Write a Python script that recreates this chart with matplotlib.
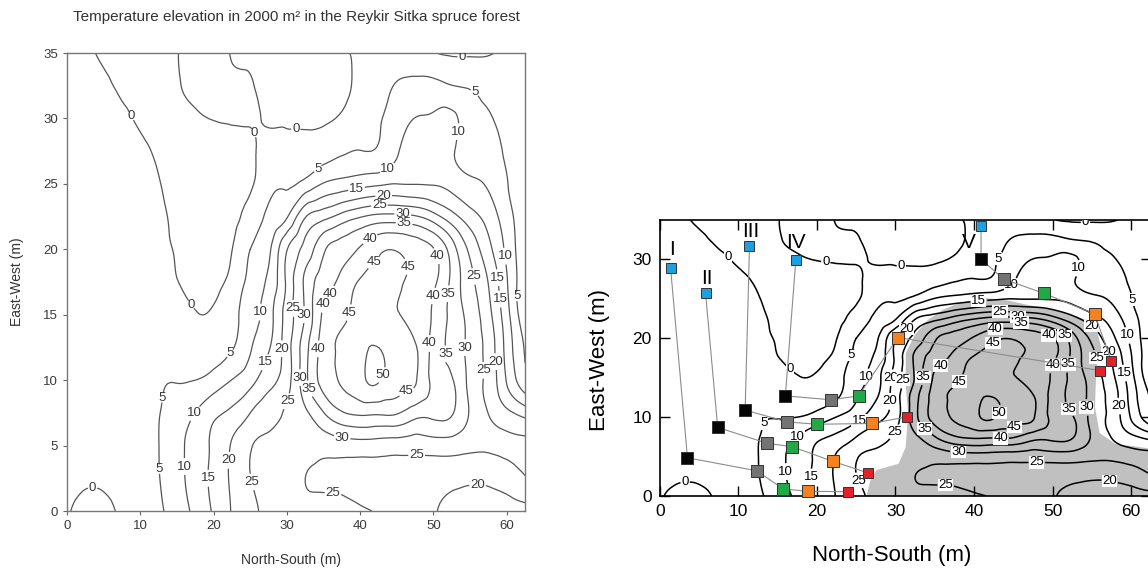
import numpy as np
import matplotlib.pyplot as plt
import matplotlib.tri as mtri

plt.rcParams['font.family'] = ['Liberation Sans', 'DejaVu Sans']

# grid of the temperature survey (m)
ns_pos = [0, 2.5, 5, 7.5, 10, 12.5, 15, 17.5, 20, 22.5, 25, 27.5, 30, 32.5,
          35, 37.5, 40, 42.5, 45, 47.5, 50, 52.5, 55, 57.5, 60, 62.5]
ew_pos = [0, 2.5, 5, 7.5, 10, 12.5, 15, 17.5, 20, 22.5, 25, 27.5, 30, 32.5, 35]

# temperature elevation (deg C), one list per north-south position, east-west 0 -> 35
temp_cols = [
    [0.3, 1.2, 1.8, 2.2, 2.5, 2.6, 2.6, 2.5, 2.3, 2.1, 1.9, 1.7, 1.4, 1.1, 0.8],
    [-0.9, 0.4, 1.5, 2.2, 2.6, 2.8, 2.8, 2.6, 2.4, 2.2, 2.0, 1.7, 1.4, 1.0, 0.4],
    [-0.7, 0.5, 1.6, 2.3, 2.8, 3.0, 3.0, 2.9, 2.7, 2.4, 2.1, 1.7, 1.2, 0.6, -0.45],
    [0.5, 1.2, 2.0, 2.6, 3.0, 3.2, 3.3, 3.1, 2.9, 2.5, 2.0, 1.5, 0.6, -0.6, -1.6],
    [2.0, 2.5, 3.0, 3.4, 3.6, 3.7, 3.6, 3.3, 3.0, 2.5, 1.8, 0.9, -0.6, -1.8, -2.4],
    [4.2, 4.8, 4.95, 4.8, 4.6, 4.4, 4.2, 3.9, 3.4, 1.8, 0.4, -1.0, -2.2, -2.8, -3.0],
    [7.35, 8.3, 8.5, 7.3, 4.8, 4.0, 2.5, 0.3, -1.2, -2.0, -2.6, -3.0, -2.5, -0.6, -0.2],
    [11.2, 12.2, 12.1, 10.1, 5.0, 2.8, 0.2, -1.2, -2.2, -2.8, -3.2, -3.3, -0.9, 1.2, 1.0],
    [15.6, 16.3, 16.0, 13.9, 6.9, 3.0, 0.4, -1.0, -2.2, -3.0, -3.4, -3.3, 0.2, 1.4, 1.2],
    [20.3, 20.9, 20.5, 16.0, 10.1, 4.6, 3.0, 1.5, -0.1, -1.5, -2.5, -2.0, 0.4, 0.6, -0.2],
    [23.7, 24.9, 24.7, 20.0, 13.3, 9.5, 8.0, 6.5, 5.0, 2.0, -0.8, -0.8, 0.4, 0.5, -1.0],
    [26.2, 26.5, 26.0, 23.1, 18.1, 14.5, 12.8, 11.0, 8.8, 5.7, 3.5, 1.6, -0.4, -1.8, -2.5],
    [26.5, 27.0, 27.3, 25.5, 23.1, 22.8, 22.1, 21.0, 19.8, 9.5, 4.35, 1.6, -0.6, -2.3, -3.0],
    [26.8, 25.0, 27.2, 29.0, 33.4, 33.1, 30.5, 31.0, 26.7, 19.6, 6.6, 1.8, -1.0, -2.8, -3.5],
    [26.3, 24.3, 26.8, 34.8, 42.0, 42.2, 40.9, 37.6, 34.2, 23.4, 10.3, 2.8, -0.7, -2.5, -3.0],
    [26.0, 24.2, 27.5, 39.5, 45.5, 46.0, 43.8, 41.4, 37.6, 26.8, 11.9, 4.3, 0.6, -1.5, -0.8],
    [25.4, 23.6, 27.8, 41.0, 48.5, 49.0, 47.5, 45.5, 40.5, 29.6, 13.2, 5.1, 3.0, 1.5, 0.8],
    [24.7, 23.3, 27.6, 40.8, 50.4, 50.0, 46.5, 46.5, 44.0, 31.4, 14.2, 5.5, 4.6, 3.5, 2.0],
    [23.0, 22.9, 27.3, 40.5, 47.0, 47.5, 45.2, 46.0, 44.7, 31.5, 15.0, 9.4, 7.4, 5.3, 2.8],
    [21.8, 22.3, 27.0, 37.2, 45.5, 45.5, 43.0, 43.5, 43.0, 30.5, 14.85, 12.5, 10.1, 6.1, 2.5],
    [20.2, 21.6, 27.5, 36.5, 38.5, 38.3, 39.4, 41.0, 40.3, 27.0, 14.7, 12.7, 10.7, 6.2, 0.3],
    [19.4, 21.2, 27.5, 35.5, 35.4, 33.8, 33.5, 33.8, 32.5, 21.9, 13.3, 10.5, 11.0, 5.1, -0.5],
    [18.6, 20.8, 26.3, 29.5, 28.5, 28.5, 28.2, 26.5, 23.8, 17.1, 10.9, 8.5, 7.5, 4.5, -0.6],
    [18.6, 21.0, 25.8, 24.9, 23.5, 23.0, 21.5, 19.8, 16.5, 12.9, 9.5, 7.5, 5.6, 3.0, -0.3],
    [18.3, 22.2, 26.0, 21.2, 14.6, 13.2, 11.8, 10.4, 8.8, 7.1, 5.3, 4.0, 2.8, 1.8, 0.6],
    [18.3, 24.6, 26.3, 18.0, 6.5, 4.5, 1.0, 0.8, 1.2, 1.5, 1.6, 1.5, 1.3, 1.0, 0.8],
]

levels = [0, 5, 10, 15, 20, 25, 30, 35, 40, 45, 50]

# shaded area in the right panel
shade_ns = [26.3, 26.8, 27.6, 30.4, 31.3, 31.6, 31.3, 31.3, 32.5, 34.1, 36.0, 38.2,
            41.5, 44.3, 47.0, 50.0, 53.0, 55.4, 56.3, 55.6, 55.4, 56.0, 58.0, 60.5,
            62.5, 62.5]
shade_ew = [0.0, 2.0, 3.3, 4.1, 6.2, 10.5, 14.0, 18.1, 20.5, 22.3, 23.6, 24.5,
            25.1, 24.8, 24.2, 23.6, 22.8, 21.9, 18.5, 16.4, 11.3, 8.0, 6.6, 6.3,
            6.0, 0.0]

# sampling transects: blue, black, grey, green, orange, red stations
transects = ['I', 'II', 'III', 'IV', 'V']
tr_ns = [[1.35, 3.5, 12.3, 15.7, 18.8, 24.0],
         [5.8, 7.35, 13.6, 16.85, 22.0, 26.45],
         [11.4, 10.85, 16.2, 19.95, 27.0, 31.5],
         [17.3, 15.97, 21.8, 25.3, 30.3, 56.1],
         [40.9, 40.9, 43.8, 48.9, 55.35, 57.5]]
tr_ew = [[28.9, 4.85, 3.2, 0.9, 0.6, 0.55],
         [25.8, 8.7, 6.7, 6.25, 4.4, 2.95],
         [31.7, 10.9, 9.4, 9.1, 9.2, 10.05],
         [29.9, 12.7, 12.2, 12.7, 20.1, 15.9],
         [34.2, 30.0, 27.5, 25.7, 23.1, 17.1]]
tr_label_ns = [1.5, 5.95, 11.5, 17.3, 39.4]
tr_label_ew = [31.2, 27.6, 33.5, 32.2, 32.2]

station_colors = ['#1e9fe0', '#050505', '#737373', '#23a847', '#f58220', '#e3212b']
station_sizes = [7.5, 8.5, 8, 8, 8, 7]

# where the contour values are written
left_lab_pos = [(8.1, 30.0), (25.1, 28.8), (31.1, 28.7), (16.3, 15.5), (3.5, 2.0), (53.9, 34.9),
                (34.3, 26.1), (55.5, 31.9), (22.6, 11.9), (13.6, 8.6), (12.5, 3.2), (61.6, 16.4),
                (43.6, 26.3), (54.4, 28.9), (60, 19.5), (26.8, 15.2), (17.3, 7.5), (16, 3.4),
                (39.5, 24.6), (59.2, 16.2), (27.3, 11.3), (19, 2.5),
                (43.2, 24.2), (58.3, 17.8), (58.2, 11.4), (28.7, 12.4), (21.4, 3.9), (56, 1.6),
                (42.6, 23.4), (56.3, 18.0), (56.7, 10.75), (31.2, 15.5), (30.4, 8.3), (25.1, 2.2),
                (47.7, 4.25), (36.3, 1.6),
                (45.8, 22.66), (53.8, 12.5), (32.6, 15), (31.4, 10.2), (37.5, 5.5),
                (46, 22), (52.1, 16.6), (52.1, 12), (34.3, 15.9), (33.1, 9.35),
                (41.4, 20.75), (51.1, 19.6), (49.4, 16.5), (49.2, 12.8), (36.3, 16.5), (34.6, 12.4),
                (41.9, 19), (48.5, 18.8), (38.2, 15.2), (46.3, 9.1),
                (43.4, 10.3)]
right_lab_pos = [(8.3, 30), (21.1, 29.5), (30.8, 28.5), (54.2, 34.8), (3.2, 1.8), (16, 15.5),
                 (42.9, 30.2), (59.5, 24.8), (25.1, 17.7), (14.1, 8.8),
                 (45.2, 26.3), (54.4, 28.6), (59.7, 20.4), (26.7, 15.1), (17.5, 7.5), (16.1, 3.1),
                 (40.6, 24.8), (59.2, 15.6), (25.6, 9.2), (19.1, 2.4),
                 (31.3, 21.3), (55.3, 21.9), (56.9, 18.1), (57.7, 11.3), (29, 12), (57.2, 1.4),
                 (43.3, 23.4), (56.4, 17.7), (29.9, 15), (30.7, 7.5), (25.4, 2.0), (36.4, 1.4),
                 (48, 4.1),
                 (45.6, 22.6), (31.6, 14.7), (38, 5.4), (54.9, 11.3),
                 (46, 22), (52.6, 16.6), (34.1, 15.1), (33.9, 8.8), (52.6, 11.5),
                 (42.7, 21.2), (51.2, 20), (50, 16.6), (36.4, 15.6), (43.4, 7.3),
                 (42.4, 19.4), (48.9, 18.9), (37.8, 14.7), (45.2, 8.6),
                 (43.6, 10.3)]

X, Y = np.meshgrid(ns_pos, ew_pos)
Z = np.array(temp_cols).T
tri = mtri.Triangulation(X.ravel(), Y.ravel())
tri_f, z_f = mtri.UniformTriRefiner(tri).refine_field(Z.ravel(), subdiv=3)

fig = plt.figure(figsize=(11.48, 5.7), dpi=100)

# ---- left: plain contour map
ax1 = fig.add_axes([0.0584, 0.1035, 0.399, 0.8035])
cs1 = ax1.tricontour(tri_f, z_f, levels=levels, colors='#555555', linewidths=0.9)
labs1 = ax1.clabel(cs1, fmt='%d', fontsize=9.5, colors='#383838', inline=True,
                   inline_spacing=1, manual=left_lab_pos)
for t in labs1:
    t.set_rotation(0)
ax1.set_xlim(0, 62.5)
ax1.set_ylim(0, 35)
ax1.set_xticks([0, 10, 20, 30, 40, 50, 60])
ax1.set_yticks([0, 5, 10, 15, 20, 25, 30, 35])
ax1.tick_params(direction='out', length=3, width=0.8, color='#666',
                labelsize=9.5, labelcolor='#3a3a3a')
for s in ax1.spines.values():
    s.set_color('#777')
    s.set_linewidth(1.0)
fig.text(296 / 1148, 1 - 17 / 570, 'Temperature elevation in 2000 m² in the Reykir Sitka spruce forest',
         ha='center', va='center', fontsize=11, color='#333')
fig.text(291 / 1148, 1 - 560 / 570, 'North-South (m)', ha='center', va='center',
         fontsize=10, color='#333')
fig.text(17 / 1148, 1 - 282 / 570, 'East-West (m)', ha='center', va='center',
         rotation=90, fontsize=10, color='#333')

# ---- right: contour map with shading and sampling transects
ax2 = fig.add_axes([0.5749, 0.1298, 0.4274, 0.4842])
ax2.fill(shade_ns, shade_ew, color='#c0c0c0', lw=0, zorder=0)
cs2 = ax2.tricontour(tri_f, z_f, levels=levels, colors='k', linewidths=1.1, zorder=1)
labs2 = ax2.clabel(cs2, fmt='%d', fontsize=9.5, colors='k', inline=True,
                   inline_spacing=1, manual=right_lab_pos)
for t in labs2:
    t.set_rotation(0)
    t.set_bbox(dict(facecolor='white', edgecolor='none', pad=0.2))

for i in range(len(transects)):
    ax2.plot(tr_ns[i], tr_ew[i], color='#8c8c8c', lw=0.8, zorder=3)
    for j in range(len(tr_ns[i])):
        ax2.plot(tr_ns[i][j], tr_ew[i][j], 's', color=station_colors[j],
                 ms=station_sizes[j], mec='#333', mew=0.7, zorder=4, clip_on=False)
    ax2.text(tr_label_ns[i], tr_label_ew[i], transects[i], fontsize=15,
             ha='center', va='center', zorder=5)

ax2.set_xlim(0, 62.5)
ax2.set_ylim(0, 35)
ax2.set_xticks([0, 10, 20, 30, 40, 50, 60])
ax2.set_yticks([0, 10, 20, 30])
ax2.tick_params(direction='in', length=7, width=1, top=True, right=True, labelsize=12.5, pad=6)
for s in ax2.spines.values():
    s.set_linewidth(1.2)
fig.text(892 / 1148, 1 - 555 / 570, 'North-South (m)', ha='center', va='center', fontsize=16)
fig.text(600 / 1148, 1 - 360 / 570, 'East-West (m)', ha='center', va='center',
         rotation=90, fontsize=16)

fig.savefig('out.png', dpi=100)
